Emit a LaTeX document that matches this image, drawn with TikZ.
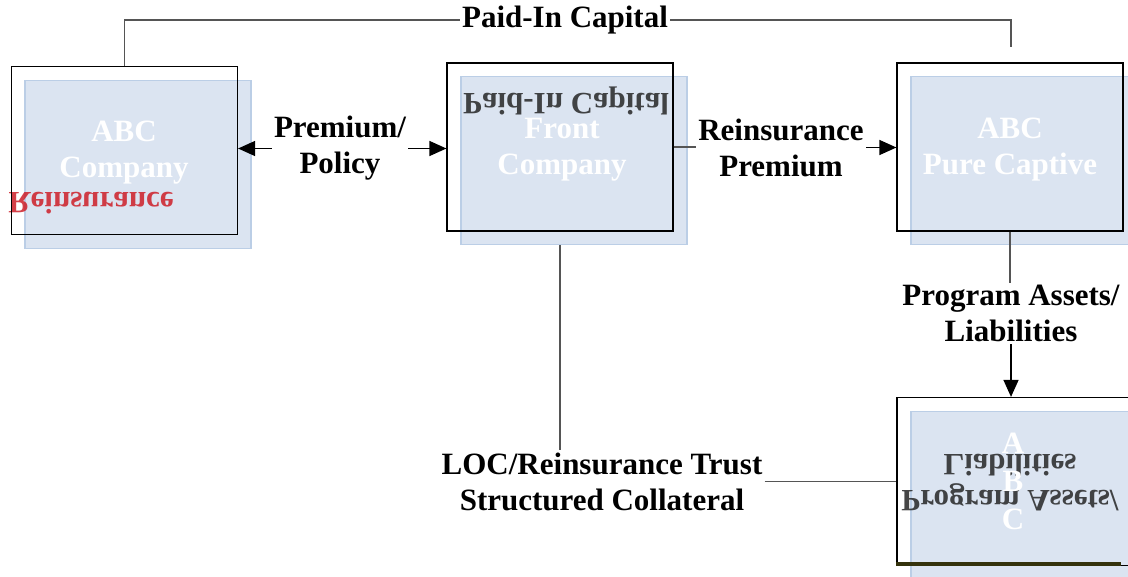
\documentclass[tikz,border=0pt]{standalone}
\usepackage{fontspec}
\setmainfont{Liberation Serif}
\usepackage{graphicx}
\usetikzlibrary{arrows.meta}

\definecolor{panelblue}{RGB}{219,228,241}
\definecolor{paneledge}{RGB}{187,206,230}
\definecolor{linkgray}{RGB}{85,85,85}
\definecolor{ghostred}{RGB}{205,30,40}
\definecolor{barolive}{RGB}{52,50,12}

\begin{document}
\begin{tikzpicture}[x=0.5pt,y=-0.5pt,
    frame/.style={draw=black,line width=0.6pt,minimum width=113pt,minimum height=84pt,inner sep=0},
    panel/.style={fill=panelblue,draw=paneledge,line width=0.6pt,minimum width=113pt,minimum height=84pt,inner sep=0},
    conn/.style={draw=linkgray,line width=0.7pt},
    arrowconn/.style={draw=black,line width=0.7pt,-{Triangle[length=8.5pt,width=7.5pt]}},
    lbl/.style={font=\labelfont,align=center,inner sep=1pt},
    inbox/.style={font=\labelfont,align=center,text=white,inner sep=0},
    ghost/.style={font=\labelfont,inner sep=0,opacity=0.85}]
    \providecommand{\labelfont}{\fontsize{15.5pt}{18pt}\selectfont\bfseries}
    \useasboundingbox (0,0) rectangle (1128,577);

    % blue panels behind the frames
    \node[panel] (abcpanel) at (138,164.5) {};
    \node[panel] (frontpanel) at (574,160.5) {};
    \node[panel] (captivepanel) at (1024,160.5) {};
    \node[panel,minimum width=119pt] (trustpanel) at (1030,495.5) {};

    % mirrored leftovers
    \node[ghost,text=ghostred] (ghostreins) at (91,203) {\scalebox{1}[-1]{Reinsurance}};
    \node[ghost,text=black!85] (ghostpaid) at (566,101) {\scalebox{1}[-1]{Paid-In Capital}};
    \node[ghost,text=black!85] (ghostprog) at (1010,480)
        {\scalebox{1}[-1]{\begin{tabular}{@{}c@{}}Program Assets/\\Liabilities\end{tabular}}};

    % white captions
    \node[inbox] (abctext) at (124,153) {ABC\\Company};
    \node[inbox] (fronttext) at (562,150) {Front\\Company};
    \node[inbox] (captivetext) at (1010,150) {ABC\\Pure Captive};
    \node[inbox] (trusttext) at (1013,481) {A\\[1pt]B\\[1pt]C};

    % frames
    \node[frame] (abc) at (124.5,150.5) {};
    \node[frame] (front) at (560,147) {};
    \node[frame] (captive) at (1010,147) {};
    \node[frame,minimum width=119pt] (trust) at (1016,481.5) {};
    \draw[line width=2pt,barolive] ([yshift=1pt]trust.south west) -- ++(225,0);

    % flow labels
    \node[lbl] (paidin) at (565,20) {Paid-In Capital};
    \node[lbl] (premium) at (340,148.5) {Premium/\\Policy};
    \node[lbl] (reinsprem) at (781,147.5) {Reinsurance\\Premium};
    \node[lbl] (progassets) at (1011,313.5) {Program Assets/\\Liabilities};
    \node[lbl] (loc) at (602,481.5) {LOC/Reinsurance Trust\\Structured Collateral};
    \coordinate (paidinend) at (1011,47);

    \draw[conn] (abc.north) |- (paidin.west);
    \draw[conn] (paidin.east) -| (paidinend);
    \draw[arrowconn] (premium.west) -- (premium.west -| abc.east);
    \draw[arrowconn] (premium.east) -- (premium.east -| front.west);
    \draw[conn] (front.east) -- (front.east -| reinsprem.west);
    \draw[arrowconn] (reinsprem.east) -- (reinsprem.east -| captive.west);
    \draw[conn] (captive.south) -- (captive.south |- progassets.north);
    \draw[arrowconn] (progassets.south) -- (progassets.south |- trust.north);
    \draw[conn] (frontpanel.south -| front.south) -- (front.south |- loc.north);
    \draw[conn] (loc.east) -- (loc.east -| trust.west);
\end{tikzpicture}
\end{document}
